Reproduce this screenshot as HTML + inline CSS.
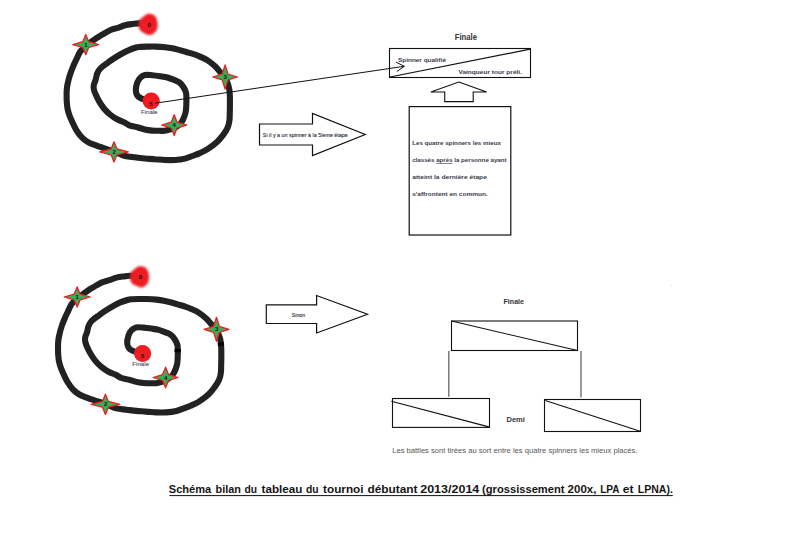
<!DOCTYPE html>
<html><head><meta charset="utf-8"><style>
html,body{margin:0;padding:0;background:#fff;}
svg{display:block;}
text{font-family:"Liberation Sans",sans-serif;}
.lab{font-size:6px;font-weight:bold;fill:#111;font-family:"Liberation Sans",sans-serif;}
.fin{font-size:5.6px;fill:#45455a;stroke:#45455a;stroke-width:0.08px;font-family:"Liberation Sans",sans-serif;}
</style></head><body>
<svg width="800" height="542" viewBox="0 0 800 542">
<defs><filter id="bl" x="-30%" y="-30%" width="160%" height="160%"><feGaussianBlur stdDeviation="0.8"/></filter>
<filter id="bl2" x="-30%" y="-30%" width="160%" height="160%"><feGaussianBlur stdDeviation="0.45"/></filter>
<filter id="sb" x="-5%" y="-5%" width="110%" height="110%"><feGaussianBlur stdDeviation="0.3"/></filter></defs>
<rect width="800" height="542" fill="#fff"/>
<g id="sp"><path d="M148.5,24.6 C146.9,24.4 141.7,23.5 139.0,23.4 C136.3,23.3 134.7,23.7 132.4,24.0 C130.1,24.3 127.4,24.6 125.0,25.2 C122.6,25.8 120.5,27.0 118.0,27.8 C115.5,28.6 112.7,29.0 110.0,30.2 C107.3,31.4 104.3,33.4 102.1,34.7 C99.9,36.0 98.5,36.7 96.6,38.0 C94.7,39.3 92.4,41.0 90.5,42.5 C88.6,44.0 86.7,45.5 85.0,47.0 C83.3,48.5 81.6,49.7 80.2,51.6 C78.8,53.5 77.9,56.1 76.8,58.5 C75.7,60.9 74.5,63.3 73.4,65.8 C72.4,68.2 71.3,70.8 70.5,73.2 C69.7,75.6 69.1,77.6 68.5,80.0 C67.9,82.4 67.3,84.9 67.0,87.4 C66.7,89.9 66.6,92.3 66.6,94.8 C66.6,97.2 66.6,99.6 66.8,102.1 C67.0,104.5 67.2,107.3 67.7,109.5 C68.2,111.7 68.7,113.3 69.5,115.5 C70.3,117.7 71.4,120.0 72.5,122.4 C73.6,124.8 74.7,127.4 76.2,129.8 C77.7,132.2 79.6,135.1 81.6,137.1 C83.6,139.1 85.7,140.8 88.0,142.1 C90.3,143.4 92.9,144.2 95.4,145.2 C97.9,146.2 99.7,146.8 102.8,147.9 C105.9,149.0 110.3,150.2 114.0,151.6 C117.7,152.9 121.5,155.1 125.0,156.0 C128.5,156.9 131.7,156.9 135.0,157.3 C138.3,157.7 141.7,158.2 145.0,158.5 C148.3,158.8 151.7,158.9 155.0,159.2 C158.3,159.4 161.7,159.9 165.0,160.0 C168.3,160.1 171.7,160.2 175.0,160.0 C178.3,159.8 181.7,159.4 185.0,158.6 C188.3,157.8 192.5,155.9 195.0,155.0 C197.5,154.1 197.9,153.9 200.0,153.0 C202.1,152.1 204.6,151.1 207.4,149.3 C210.2,147.5 214.4,144.5 217.0,142.1 C219.6,139.7 221.4,137.2 223.2,134.8 C225.0,132.4 226.6,129.9 227.7,127.4 C228.8,124.9 229.2,122.6 229.5,120.0 C229.8,117.4 229.7,114.2 229.8,111.6 C229.9,109.0 229.9,106.7 229.9,104.2 C229.9,101.7 230.0,99.3 229.9,96.8 C229.8,94.3 229.7,91.8 229.3,89.4 C228.9,87.0 228.2,84.6 227.4,82.5 C226.6,80.4 225.6,78.9 224.3,77.0 C223.0,75.1 221.0,73.0 219.4,71.2 C217.8,69.4 216.8,67.8 214.8,66.0 C212.8,64.2 209.9,61.9 207.4,60.3 C204.9,58.7 202.2,57.6 200.0,56.6 C197.8,55.6 196.7,55.1 194.5,54.4 C192.3,53.7 189.5,52.9 187.1,52.2 C184.7,51.5 182.2,50.8 179.8,50.1 C177.4,49.5 174.9,48.8 172.4,48.3 C169.9,47.8 167.9,47.5 165.0,47.2 C162.1,46.9 158.0,46.7 155.0,46.6 C152.0,46.5 149.5,46.6 147.0,46.6 C144.5,46.6 141.7,46.8 140.0,46.9 C138.3,47.0 138.7,46.8 136.9,47.3 C135.2,47.8 132.0,48.8 129.5,49.8 C127.0,50.8 124.5,52.1 122.1,53.5 C119.6,54.9 117.2,56.3 114.8,57.9 C112.3,59.5 109.8,61.3 107.4,63.0 C105.0,64.7 102.2,66.5 100.5,68.3 C98.8,70.0 98.0,71.5 97.2,73.5 C96.4,75.5 96.2,78.1 95.6,80.0 C95.0,81.9 94.1,83.5 93.8,85.0 C93.5,86.5 93.5,87.5 93.8,89.0 C94.1,90.5 94.6,92.0 95.5,94.0 C96.4,96.0 97.6,98.7 99.0,101.1 C100.4,103.5 102.2,106.3 104.0,108.5 C105.8,110.7 107.8,112.7 110.0,114.5 C112.2,116.3 114.7,118.0 117.1,119.3 C119.5,120.6 122.3,121.5 124.5,122.5 C126.7,123.5 127.8,124.8 130.0,125.6 C132.2,126.4 134.9,126.5 137.4,127.2 C139.9,127.9 142.4,128.9 144.8,129.5 C147.2,130.1 149.7,130.4 152.1,130.6 C154.5,130.8 157.2,130.8 159.5,130.8 C161.8,130.8 163.5,131.1 166.0,130.6 C168.5,130.1 172.2,128.9 174.5,127.8 C176.8,126.7 178.4,125.5 179.8,124.2 C181.2,122.9 181.9,121.8 182.9,119.8 C183.9,117.8 185.0,114.9 185.6,112.4 C186.2,109.9 186.2,107.4 186.3,105.0 C186.4,102.6 186.5,100.1 186.4,98.0 C186.3,95.9 186.5,94.3 186.0,92.5 C185.5,90.7 184.5,88.7 183.4,87.0 C182.3,85.3 180.9,83.6 179.5,82.5 C178.1,81.4 176.8,81.0 174.8,80.2 C172.8,79.4 169.9,78.2 167.4,77.5 C164.9,76.8 162.6,76.6 160.0,76.2 C157.4,75.8 154.6,75.4 152.1,75.2 C149.6,75.0 146.8,74.6 144.8,75.0 C142.8,75.4 141.5,76.5 140.2,77.8 C138.9,79.1 137.9,80.8 137.2,82.8 C136.5,84.8 135.8,87.9 135.8,90.0 C135.8,92.1 136.4,94.1 137.3,95.5 C138.2,96.9 140.0,97.7 141.5,98.5 C143.0,99.3 144.9,99.8 146.5,100.3 C148.1,100.8 150.2,101.0 151.0,101.2" fill="none" stroke="#202020" stroke-width="6.1" stroke-linecap="round" stroke-linejoin="round" filter="url(#sb)"/>
<path d="M139.8,19.6 C141.0,18.4 144.6,15.3 146.4,14.4 C148.2,13.5 149.5,13.9 150.8,14.1 C152.2,14.3 153.4,14.5 154.5,15.5 C155.6,16.5 156.6,18.4 157.1,20.3 C157.6,22.2 157.8,25.0 157.5,27.0 C157.2,29.0 156.5,30.8 155.3,32.1 C154.1,33.5 151.9,34.9 150.1,35.1 C148.2,35.3 145.9,34.0 144.2,33.2 C142.5,32.4 141.0,31.5 140.1,30.3 C139.2,29.1 138.9,27.6 138.7,26.2 C138.5,24.8 138.8,22.9 139.0,21.8 C139.2,20.7 138.6,20.8 139.8,19.6Z" fill="#ec1c24" filter="url(#bl)"/>
<ellipse cx="151.2" cy="101.1" rx="8.6" ry="8.5" fill="#ec1c24" filter="url(#bl2)"/>
<path d="M85.8,34.5 L88.7,41.7 L98.8,44.6 L88.7,47.5 L85.8,54.7 L82.8,47.5 L72.8,44.6 L82.8,41.7Z" fill="#3aae56" stroke="#ee1c24" stroke-width="1.3" stroke-linejoin="round"/>
<text x="84.2" y="46.7" class="lab">1</text>
<path d="M114.0,141.8 L117.0,149.0 L128.3,151.9 L117.0,154.8 L114.0,162.0 L111.1,154.8 L99.8,151.9 L111.1,149.0Z" fill="#3aae56" stroke="#ee1c24" stroke-width="1.3" stroke-linejoin="round"/>
<text x="112.5" y="154.0" class="lab">2</text>
<path d="M225.1,64.9 L228.0,74.0 L237.5,77.0 L228.0,79.9 L225.1,89.0 L222.2,79.9 L212.7,77.0 L222.2,74.0Z" fill="#3aae56" stroke="#ee1c24" stroke-width="1.3" stroke-linejoin="round"/>
<text x="223.5" y="79.0" class="lab">3</text>
<path d="M174.2,114.8 L177.1,122.2 L186.7,125.1 L177.1,128.0 L174.2,135.4 L171.2,128.0 L161.7,125.1 L171.2,122.2Z" fill="#3aae56" stroke="#ee1c24" stroke-width="1.3" stroke-linejoin="round"/>
<text x="172.6" y="127.2" class="lab">4</text>
<text x="147.4" y="26.5" class="lab">0</text>
<text x="149.3" y="105.6" class="lab">5</text>
<text x="140.9" y="113.7" class="fin" textLength="16.8" lengthAdjust="spacingAndGlyphs">Finale</text></g>
<use href="#sp" transform="translate(-8.6,252.4)"/>
<path d="M217.8,344.2 L224,344.2 M174.6,350.6 L180.8,350.6" stroke="#000" stroke-width="3.2"/>
<path d="M155.3,103.2 L404.3,66.3 M396,62.1 L404.3,66.3 L396.9,71.5" fill="none" stroke="#111" stroke-width="1"/>
<rect x="389.5" y="48.5" width="141" height="29" fill="none" stroke="#111" stroke-width="1.1"/>
<path d="M390,77.0 L530,49.2" stroke="#111" stroke-width="1.2"/>
<text x="454.7" y="39.7" font-size="8.50" font-weight="bold" fill="#333" textLength="22.3" lengthAdjust="spacingAndGlyphs">Finale</text>
<text x="398.0" y="62.0" font-size="6.20" font-weight="bold" fill="#3a3a4a" textLength="48.1" lengthAdjust="spacingAndGlyphs">Spinner qualifié</text>
<text x="458.4" y="74.0" font-size="6.20" font-weight="bold" fill="#3a3a4a" textLength="63.6" lengthAdjust="spacingAndGlyphs">Vainqueur tour préli.</text>
<path d="M458.8,82 L486.7,92 L473.2,92 L473.2,101.6 L444.7,101.6 L444.7,92 L430.8,92 Z" fill="#fff" stroke="#111" stroke-width="1.1"/>
<rect x="409.2" y="106.6" width="101.6" height="128.4" fill="none" stroke="#111" stroke-width="1.2"/>
<text x="412.2" y="145.2" font-size="6.20" font-weight="bold" fill="#3a3a4a" textLength="88.7" lengthAdjust="spacingAndGlyphs">Les quatre spinners les mieux</text>
<text x="412.2" y="162.0" font-size="6.20" font-weight="bold" fill="#3a3a4a" textLength="94.4" lengthAdjust="spacingAndGlyphs">classés <tspan text-decoration="underline">après</tspan> la personne ayant</text>
<text x="412.2" y="179.0" font-size="6.20" font-weight="bold" fill="#3a3a4a" textLength="74.7" lengthAdjust="spacingAndGlyphs">atteint la dernière étape</text>
<text x="412.2" y="196.0" font-size="6.20" font-weight="bold" fill="#3a3a4a" textLength="75.5" lengthAdjust="spacingAndGlyphs">s'affrontent en commun.</text>
<path d="M259.5,124.0 L312.5,124.0 L312.5,113.5 L365.2,134.5 L312.5,155.5 L312.5,145.0 L259.5,145.0 Z" fill="#fff" stroke="#111" stroke-width="1.2" stroke-linejoin="miter"/>
<text x="262.8" y="136.5" font-size="5.20" font-weight="normal" fill="#262636" textLength="85.0" lengthAdjust="spacingAndGlyphs" stroke="#262636" stroke-width="0.1">Si il y a un spinner à la 5ieme étape</text>
<path d="M266.3,304.8 L316.6,304.8 L316.6,295.5 L367.5,314.2 L316.6,333.0 L316.6,323.5 L266.3,323.5 Z" fill="#fff" stroke="#111" stroke-width="1.2" stroke-linejoin="miter"/>
<text x="291.8" y="316.5" font-size="5.20" font-weight="normal" fill="#262636" textLength="13.3" lengthAdjust="spacingAndGlyphs" stroke="#262636" stroke-width="0.1">Sinon</text>
<text x="503.5" y="304.0" font-size="7.60" font-weight="bold" fill="#333" textLength="20.5" lengthAdjust="spacingAndGlyphs">Finale</text>
<rect x="451.5" y="321" width="126" height="29.5" fill="none" stroke="#111" stroke-width="1.1"/>
<path d="M451.5,321 L577.5,350.5" stroke="#111" stroke-width="1.1"/>
<path d="M448.8,351 L448.8,396.7 M581,351 L581,397.5" stroke="#666" stroke-width="1.3"/>
<rect x="392.5" y="398.5" width="97" height="28.9" fill="none" stroke="#111" stroke-width="1.1"/>
<path d="M391.3,401.2 L488.8,426.9" stroke="#111" stroke-width="1.1"/>
<rect x="544.5" y="399.5" width="96" height="32" fill="none" stroke="#111" stroke-width="1.1"/>
<path d="M545.2,400.4 L640.2,431.2" stroke="#111" stroke-width="1.1"/>
<text x="506.5" y="422.1" font-size="7.30" font-weight="bold" fill="#333" textLength="18.4" lengthAdjust="spacingAndGlyphs">Demi</text>
<text x="392.2" y="453.0" font-size="7.60" font-weight="normal" fill="#555" textLength="245.3" lengthAdjust="spacingAndGlyphs">Les battles sont tirées au sort entre les quatre spinners les mieux placés.</text>
<rect x="671" y="285" width="1" height="1.4" fill="#e4e4e4"/>
<text x="168.8" y="493.0" font-size="10.60" font-weight="bold" fill="#151515" textLength="42.4" lengthAdjust="spacingAndGlyphs">Schéma</text>
<text x="215.5" y="493.0" font-size="10.60" font-weight="bold" fill="#151515" textLength="25.4" lengthAdjust="spacingAndGlyphs">bilan</text>
<text x="244.4" y="493.0" font-size="10.60" font-weight="bold" fill="#151515" textLength="12.6" lengthAdjust="spacingAndGlyphs">du</text>
<text x="261.6" y="493.0" font-size="10.60" font-weight="bold" fill="#151515" textLength="40.8" lengthAdjust="spacingAndGlyphs">tableau</text>
<text x="305.9" y="493.0" font-size="10.60" font-weight="bold" fill="#151515" textLength="12.6" lengthAdjust="spacingAndGlyphs">du</text>
<text x="323.1" y="493.0" font-size="10.60" font-weight="bold" fill="#151515" textLength="40.4" lengthAdjust="spacingAndGlyphs">tournoi</text>
<text x="367.4" y="493.0" font-size="10.60" font-weight="bold" fill="#151515" textLength="50.1" lengthAdjust="spacingAndGlyphs">débutant</text>
<text x="420.2" y="493.0" font-size="10.60" font-weight="bold" fill="#151515" textLength="59.1" lengthAdjust="spacingAndGlyphs">2013/2014</text>
<text x="482.1" y="493.0" font-size="10.60" font-weight="bold" fill="#151515" textLength="82.4" lengthAdjust="spacingAndGlyphs">(grossissement</text>
<text x="567.6" y="493.0" font-size="10.60" font-weight="bold" fill="#151515" textLength="28.8" lengthAdjust="spacingAndGlyphs">200x,</text>
<text x="600.2" y="493.0" font-size="10.60" font-weight="bold" fill="#151515" textLength="19.4" lengthAdjust="spacingAndGlyphs">LPA</text>
<text x="622.8" y="493.0" font-size="10.60" font-weight="bold" fill="#151515" textLength="10.7" lengthAdjust="spacingAndGlyphs">et</text>
<text x="637.8" y="493.0" font-size="10.60" font-weight="bold" fill="#151515" textLength="35.1" lengthAdjust="spacingAndGlyphs">LPNA).</text>
<path d="M169.4,495.6 L672.8,495.6" stroke="#111" stroke-width="1"/>
</svg>
</body></html>
